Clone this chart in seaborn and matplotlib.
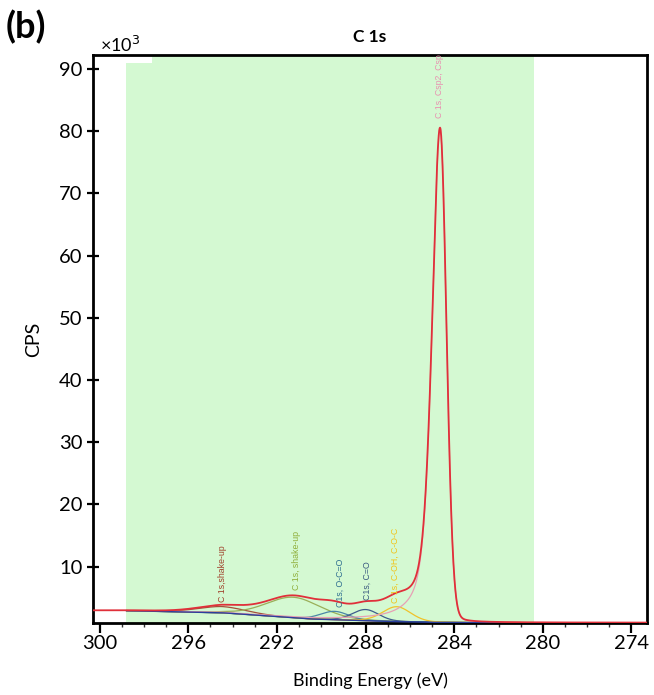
import numpy as np
import pandas as pd
import matplotlib
matplotlib.use("Agg")
import matplotlib.pyplot as plt
import seaborn as sns

# ---------------- data ----------------
# binding-energy grid limits of the measured region (eV)
scan_start, scan_end = 300.3, 275.3
fit_start, fit_end = 298.8, 280.4          # shaded fit window

# background (blue) vertices, x in eV, y in 10^3 CPS
bg_x = [300.3, 298.8, 294.5, 290.5, 287.0, 285.0, 283.0, 275.3]
bg_y = [2.93, 2.93, 2.60, 1.60, 1.20, 1.05, 1.00, 1.00]

# fitted components
comp_labels = ["C 1s,shake-up", "C 1s, shake-up", "C1s, O-C=O", "C1s, C=O",
               "C 1s, C-OH, C-O-C", "C 1s, Csp2, Csp3"]
comp_center = [294.45, 291.25, 289.40, 288.00, 286.60, 284.64]
comp_height = [1.00, 3.30, 1.35, 1.80, 2.40, 79.4]
comp_hwhm_hi = [1.30, 1.45, 0.75, 0.70, 0.75, 0.43]   # high-BE side
comp_hwhm_lo = [1.30, 1.45, 0.75, 0.70, 0.75, 0.34]   # low-BE side
comp_lor_hi = [0.2, 0.2, 0.2, 0.2, 0.2, 0.55]
comp_lor_lo = [0.2, 0.2, 0.2, 0.2, 0.2, 0.06]
comp_colors = ["#a5503a", "#9aae58", "#4a86a6", "#3f5d8c", "#f0c22a", "#e7a0b4"]
label_colors = ["#a0402a", "#8fae3a", "#2e6e90", "#3a5a80", "#f0c419", "#e890b0"]
label_x = [294.45, 291.10, 289.12, 287.90, 286.64, 284.65]
label_y = [4.3, 6.25, 3.5, 4.65, 4.2, 82.1]

xtick_pos = [300, 296, 292, 288, 284, 280, 276]
xtick_lab = ["300", "296", "292", "288", "284", "280", "274"]
ytick_pos = [10, 20, 30, 40, 50, 60, 70, 80, 90]

# ---------------- build curves ----------------
x = np.linspace(scan_start, scan_end, 2001)
bg = np.interp(x, bg_x[::-1], bg_y[::-1])


def gl(xx, c, h, whi, wlo, lhi, llo):
    d = xx - c
    w = np.where(d >= 0, whi, wlo)
    m = np.where(d >= 0, lhi, llo)
    g = np.exp(-np.log(2) * (d / w) ** 2)
    lo = 1.0 / (1.0 + (d / w) ** 2)
    return h * ((1 - m) * g + m * lo)


comps = [gl(x, comp_center[i], comp_height[i], comp_hwhm_hi[i], comp_hwhm_lo[i],
            comp_lor_hi[i], comp_lor_lo[i]) for i in range(len(comp_center))]
envelope = bg + np.sum(comps, axis=0)
infit = (x <= fit_start) & (x >= 281.0)

# ---------------- plot ----------------
sns.set_theme(style="white")
plt.rcParams["font.family"] = ["Lato", "DejaVu Sans"]
plt.rcParams["text.color"] = "black"
plt.rcParams["axes.labelcolor"] = "black"
plt.rcParams["xtick.color"] = "black"
plt.rcParams["ytick.color"] = "black"
fig = plt.figure(figsize=(6.54, 6.95), dpi=100)
ax = fig.add_axes([0.1422, 0.1036, 0.9893 - 0.1422, 0.9209 - 0.1036])

ax.axvspan(fit_start, fit_end, color="#d4f9d2", lw=0, zorder=0)
ax.fill_between([fit_start, 297.65], 91.0, 93, color="white", lw=0, zorder=0.5)

for i in range(len(comps)):
    df = pd.DataFrame({"x": x[infit], "y": (bg + comps[i])[infit]})
    sns.lineplot(data=df, x="x", y="y", ax=ax, color=comp_colors[i], lw=0.9,
                 sort=False, estimator=None, zorder=2)

dfb = pd.DataFrame({"x": x[infit], "y": bg[infit]})
sns.lineplot(data=dfb, x="x", y="y", ax=ax, color="#2b3f9e", lw=1.0,
             sort=False, estimator=None, zorder=3)

dfe = pd.DataFrame({"x": x, "y": envelope})
sns.lineplot(data=dfe, x="x", y="y", ax=ax, color="#e0303a", lw=1.3,
             sort=False, estimator=None, zorder=4)

for i in range(len(comp_labels)):
    ax.text(label_x[i], label_y[i], comp_labels[i], rotation=90, ha="center",
            va="bottom", fontsize=6.3, color=label_colors[i],
            family=["Liberation Sans", "DejaVu Sans"], clip_on=True, zorder=5)

ax.set_xlim(scan_start, scan_end)
ax.set_ylim(0.95, 92.25)
ax.set_xticks(xtick_pos)
ax.set_xticklabels(xtick_lab)
ax.set_xticks(np.arange(276, 301, 1), minor=True)
ax.set_yticks(ytick_pos)
ax.tick_params(axis="x", which="major", direction="out", length=7, width=1.6,
               labelsize=14.5, pad=2, color="black", bottom=True)
ax.tick_params(axis="x", which="minor", direction="out", length=3, width=1.0,
               color="#333333", bottom=True)
ax.tick_params(axis="y", which="major", direction="inout", length=9, width=1.6,
               labelsize=14.5, pad=3, color="black", left=True)
for s in ax.spines.values():
    s.set_color("black")
    s.set_linewidth(2.0)

ax.set_xlabel("Binding Energy (eV)", fontsize=13, labelpad=14)
ax.set_ylabel("CPS", fontsize=14, labelpad=12)
ax.set_title("C 1s", fontsize=12.5, fontweight="bold", pad=9)
fig.text(100 / 654, 1 - 45 / 695, "×10$^3$", fontsize=13, ha="left", va="center")
fig.text(6 / 654, 1 - 27 / 695, "(b)", fontsize=26, fontweight="bold",
         ha="left", va="center")

fig.savefig("out.png", dpi=100)
